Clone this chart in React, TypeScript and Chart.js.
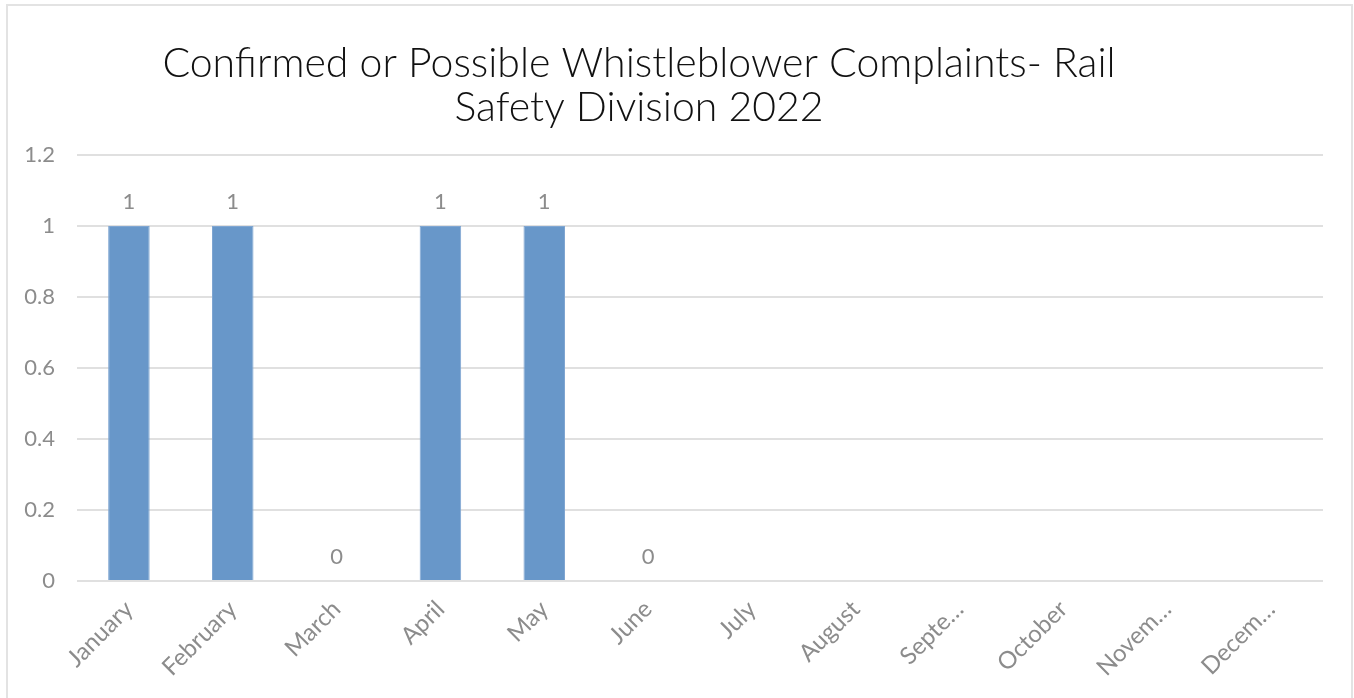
import React, { useEffect, useRef } from "react";
import { Chart, registerables } from "chart.js";

Chart.register(...registerables);

const MONTHS = [
  "January",
  "February",
  "March",
  "April",
  "May",
  "June",
  "July",
  "August",
  "Septe…",
  "October",
  "Novem…",
  "Decem…",
];
const COMPLAINTS: (number | null)[] = [1, 1, 0, 1, 1, 0, null, null, null, null, null, null];
const Y_MIN = 0;
const Y_MAX = 1.2;
const Y_STEP = 0.2;
const TITLE_LINES = ["Confirmed or Possible Whistleblower Complaints- Rail", "Safety Division 2022"];

const FONT = "Lato, 'Open Sans', sans-serif";
const GRAY = "#8c8c8c";
const BAR_COLOR = "#6897c9";
const GRID_COLOR = "#e0e0e0";

const TITLE_CENTER_X = 639;
const TITLE_BASELINES = [77, 121];

const titlePlugin = {
  id: "customTitle",
  afterDraw(chart: any) {
    const ctx = chart.ctx;
    ctx.save();
    ctx.fillStyle = "#111111";
    ctx.font = `300 41px ${FONT}`;
    ctx.textAlign = "center";
    ctx.textBaseline = "alphabetic";
    TITLE_LINES.forEach((line, i) => ctx.fillText(line, TITLE_CENTER_X, TITLE_BASELINES[i]));
    ctx.restore();
  },
};

const valueLabelPlugin = {
  id: "valueLabels",
  afterDatasetsDraw(chart: any) {
    const ctx = chart.ctx;
    ctx.save();
    ctx.fillStyle = GRAY;
    ctx.font = `22px ${FONT}`;
    ctx.textAlign = "center";
    ctx.textBaseline = "alphabetic";
    chart.data.datasets.forEach((ds: any, di: number) => {
      const meta = chart.getDatasetMeta(di);
      meta.data.forEach((el: any, i: number) => {
        const v = ds.data[i];
        if (v === null || v === undefined) return;
        ctx.fillText(String(v), el.x, el.y - 17);
      });
    });
    ctx.restore();
  },
};

export default function App() {
  const ref = useRef<HTMLCanvasElement>(null);

  useEffect(() => {
    if (!ref.current) return;
    const chart = new Chart(ref.current, {
      type: "bar",
      data: {
        labels: MONTHS,
        datasets: [
          {
            label: "Complaints",
            data: COMPLAINTS,
            backgroundColor: BAR_COLOR,
            borderColor: "#7fa6d2",
            borderWidth: 1,
            categoryPercentage: 1,
            barPercentage: 0.4,
          },
        ],
      },
      options: {
        animation: false,
        responsive: false,
        devicePixelRatio: 1,
        layout: { padding: { top: 155, right: 31, bottom: 0, left: 0 } },
        plugins: {
          legend: { display: false },
          title: { display: false },
          tooltip: { enabled: false },
        },
        scales: {
          x: {
            grid: { display: false, drawTicks: false },
            border: { display: false },
            ticks: {
              autoSkip: false,
              maxRotation: 45,
              minRotation: 45,
              color: GRAY,
              font: { family: FONT, size: 24 },
              padding: 14,
            },
            afterFit(scale: any) {
              scale.height = 117;
            },
          },
          y: {
            min: Y_MIN,
            max: Y_MAX,
            grid: { color: GRID_COLOR, lineWidth: 2, drawTicks: false },
            border: { display: false },
            ticks: {
              stepSize: Y_STEP,
              color: GRAY,
              font: { family: FONT, size: 22 },
              padding: 22,
              callback: (v: any) => String(Number(Number(v).toFixed(1))),
            },
            afterFit(scale: any) {
              scale.width = 77;
            },
          },
        },
      },
      plugins: [titlePlugin, valueLabelPlugin],
    });
    return () => chart.destroy();
  }, []);

  return (
    <div
      style={{
        position: "fixed",
        left: 0,
        top: 0,
        width: 1354,
        height: 698,
        background: "#ffffff",
        overflow: "hidden",
      }}
    >
      <div
        style={{
          position: "absolute",
          left: 6,
          top: 4,
          width: 1343,
          height: 720,
          border: "2px solid #e3e3e3",
        }}
      />
      <canvas
        ref={ref}
        width={1354}
        height={698}
        style={{ position: "absolute", left: 0, top: 0, width: 1354, height: 698 }}
      />
    </div>
  );
}
